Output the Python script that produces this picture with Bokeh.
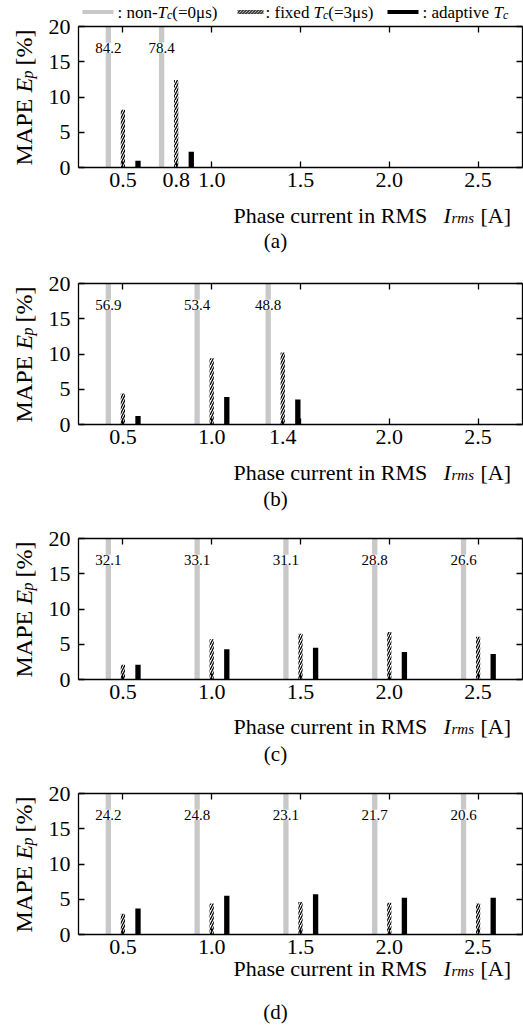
import numpy as np
from bokeh.plotting import figure
from bokeh.models import Range1d, FixedTicker, LinearAxis
from bokeh.layouts import column
from bokeh.embed import file_html
from bokeh.resources import INLINE
from bokeh.core.properties import value

FONT = value("Liberation Serif")

# ---------------- data ----------------
panel_names = ["(a)", "(b)", "(c)", "(d)"]

groups_a = [0.5, 0.8]
non_a = [84.2, 78.4]
fixed_a = [8.2, 12.4]
adapt_a = [0.95, 2.25]
tick_labels_a = [0.5, 0.8, 1.0, 1.5, 2.0, 2.5]

groups_b = [0.5, 1.0, 1.4]
non_b = [56.9, 53.4, 48.8]
fixed_b = [4.4, 9.4, 10.2]
adapt_b = [1.2, 3.9, 3.55]
tick_labels_b = [0.5, 1.0, 1.4, 2.0, 2.5]

groups_c = [0.5, 1.0, 1.5, 2.0, 2.5]
non_c = [32.1, 33.1, 31.1, 28.8, 26.6]
fixed_c = [2.1, 5.7, 6.5, 6.75, 6.05]
adapt_c = [2.1, 4.3, 4.5, 3.9, 3.6]
tick_labels_c = [0.5, 1.0, 1.5, 2.0, 2.5]

groups_d = [0.5, 1.0, 1.5, 2.0, 2.5]
non_d = [24.2, 24.8, 23.1, 21.7, 20.6]
fixed_d = [2.95, 4.4, 4.6, 4.5, 4.4]
adapt_d = [3.7, 5.5, 5.7, 5.2, 5.2]
tick_labels_d = [0.5, 1.0, 1.5, 2.0, 2.5]

grid_ticks = [0.5, 1.0, 1.5, 2.0, 2.5]
y_ticks = [0, 5, 10, 15, 20]
Y_MAX = 20

# ---------------- geometry / style ----------------
W = 523
LEFT = 78            # pixel of the left axis
X0, X1 = 0.25, 2.75  # axis span
PXU = 444 / (X1 - X0)   # pixels per x unit
PYU = 141 / Y_MAX       # pixels per y unit
GRAY = "#c8c8c8"


def X(px):
    return X0 + (px - LEFT) / PXU


def Yb(px_below_bottom):
    return -px_below_bottom / PYU


def txt(p, x, y, s, size, style="normal", align="left", baseline="middle", angle=0.0):
    p.text(x=[x], y=[y], text=[s], text_font=FONT, text_font_size=size,
           text_font_style=style, text_align=align, text_baseline=baseline,
           angle=angle, text_color="black")


def style_axis(ax):
    ax.axis_line_width = 1.3
    ax.axis_line_color = "black"
    ax.major_tick_in = 6
    ax.major_tick_out = 0
    ax.minor_tick_in = 6
    ax.minor_tick_out = 0
    ax.major_tick_line_width = 1.3
    ax.minor_tick_line_width = 1.3
    ax.major_tick_line_color = "black"
    ax.minor_tick_line_color = "black"
    ax.major_label_text_font = "Liberation Serif"
    ax.major_label_text_font_size = "22px"
    ax.major_label_text_color = "black"


def make_panel(name, groups, non, fixed, adapt, labels, height, top_px,
               xlab_off, cap_off, legend=False):
    p = figure(width=W, height=height, output_backend="svg", toolbar_location=None,
               x_range=Range1d(X0 - LEFT / PXU, X1 + 1 / PXU),
               y_range=Range1d(Y_MAX - (height - top_px) / PYU, Y_MAX + top_px / PYU),
               min_border=0, x_axis_location=None, y_axis_location=None)
    p.grid.visible = False
    p.outline_line_color = None
    p.background_fill_color = "white"
    p.border_fill_color = "white"

    g = np.array(groups)
    p.vbar(x=g - 0.082, bottom=0, top=np.minimum(non, Y_MAX), width=0.03,
           fill_color=GRAY, line_color=None)
    p.vbar(x=g, bottom=0, top=fixed, width=0.024, fill_color="white", line_color=None,
           hatch_pattern="/", hatch_color="black", hatch_scale=5, hatch_weight=1.3)
    p.vbar(x=g + 0.085, bottom=0, top=adapt, width=0.03, fill_color="black", line_color=None)
    p.text(x=g - 0.082, y=[17.0] * len(g), text=[f"{v:.1f}" for v in non],
           text_font=FONT, text_font_size="15px", text_align="center",
           text_baseline="middle", background_fill_color="white", text_color="black")

    # axes, placed on the axis box through fixed locations
    minor = [t for t in grid_ticks if t not in labels]
    bottom = LinearAxis(ticker=FixedTicker(ticks=labels, minor_ticks=minor),
                        fixed_location=0, bounds=(X0, X1))
    style_axis(bottom)
    bottom.major_label_standoff = 5
    bottom.major_label_overrides = {t: f"{t:.1f}" for t in labels}
    left = LinearAxis(ticker=FixedTicker(ticks=y_ticks), fixed_location=X0,
                      bounds=(0, Y_MAX))
    style_axis(left)
    left.major_label_standoff = 8
    top = LinearAxis(ticker=FixedTicker(ticks=[], minor_ticks=grid_ticks),
                     fixed_location=Y_MAX, bounds=(X0, X1))
    style_axis(top)
    right = LinearAxis(ticker=FixedTicker(ticks=[], minor_ticks=y_ticks),
                       fixed_location=X1, bounds=(0, Y_MAX))
    style_axis(right)
    p.add_layout(bottom, "below")
    p.add_layout(left, "left")
    p.add_layout(top, "above")
    p.add_layout(right, "right")

    # y axis title (rotated pieces)
    for s, off, dx, size, st in [("MAPE", 2, 0, "24px", "normal"),
                                 ("E", 75, 0, "24px", "italic"),
                                 ("p", 89, 4, "16px", "italic"),
                                 ("[%]", 102, 0, "24px", "normal")]:
        txt(p, X(23 + dx), off / PYU, s, size, st, angle=np.pi / 2)

    # x axis title
    yl = Yb(xlab_off)
    for s, px, dy, size, st in [("Phase current in RMS", 233, 0, "22px", "normal"),
                                ("I", 443, 0, "22px", "italic"),
                                ("rms", 451, -2, "15px", "italic"),
                                ("[A]", 480, 0, "22px", "normal")]:
        txt(p, X(px), yl + dy / PYU, s, size, st)
    txt(p, X(275), Yb(cap_off), name, "21px", align="center")

    if legend:
        ly = Y_MAX + (top_px - 11.5) / PYU
        h = 2.0 / PYU
        p.quad(left=[X(82)], right=[X(113)], bottom=[ly - h], top=[ly + h],
               fill_color=GRAY, line_color=None)
        p.quad(left=[X(237)], right=[X(263)], bottom=[ly - h], top=[ly + h],
               fill_color="white", line_color=None, hatch_pattern="\\",
               hatch_color="black", hatch_scale=3, hatch_weight=1.0)
        p.quad(left=[X(387)], right=[X(418)], bottom=[ly - h], top=[ly + h],
               fill_color="black", line_color=None)
        pieces = [
            (117, ": non-", "normal", "17px", 0, 40), (None, "T", "italic", "17px", 0, 9.5),
            (None, "c", "italic", "12px", -3, 5.3), (None, "(=0μs)", "normal", "17px", 0, 0),
            (265, ": fixed ", "normal", "17px", 0, 48), (None, "T", "italic", "17px", 0, 9.5),
            (None, "c", "italic", "12px", -3, 5.3), (None, "(=3μs)", "normal", "17px", 0, 0),
            (422, ": adaptive ", "normal", "17px", 0, 71), (None, "T", "italic", "17px", 0, 9.5),
            (None, "c", "italic", "12px", -3, 0),
        ]
        cur = 0
        for start, s, st, size, dy, adv in pieces:
            if start is not None:
                cur = start
            txt(p, X(cur), ly + dy / PYU, s, size, st)
            cur += adv
    return p


pa = make_panel(panel_names[0], groups_a, non_a, fixed_a, adapt_a, tick_labels_a,
                265, 26, 48, 73, legend=True)
pb = make_panel(panel_names[1], groups_b, non_b, fixed_b, adapt_b, tick_labels_b,
                255, 18, 48, 74)
pc = make_panel(panel_names[2], groups_c, non_c, fixed_c, adapt_c, tick_labels_c,
                255, 18, 47, 74)
pd = make_panel(panel_names[3], groups_d, non_d, fixed_d, adapt_d, tick_labels_d,
                254, 18, 34, 77)

layout = column(pa, pb, pc, pd, spacing=0)
open("out.html", "w").write(file_html(layout, INLINE))
